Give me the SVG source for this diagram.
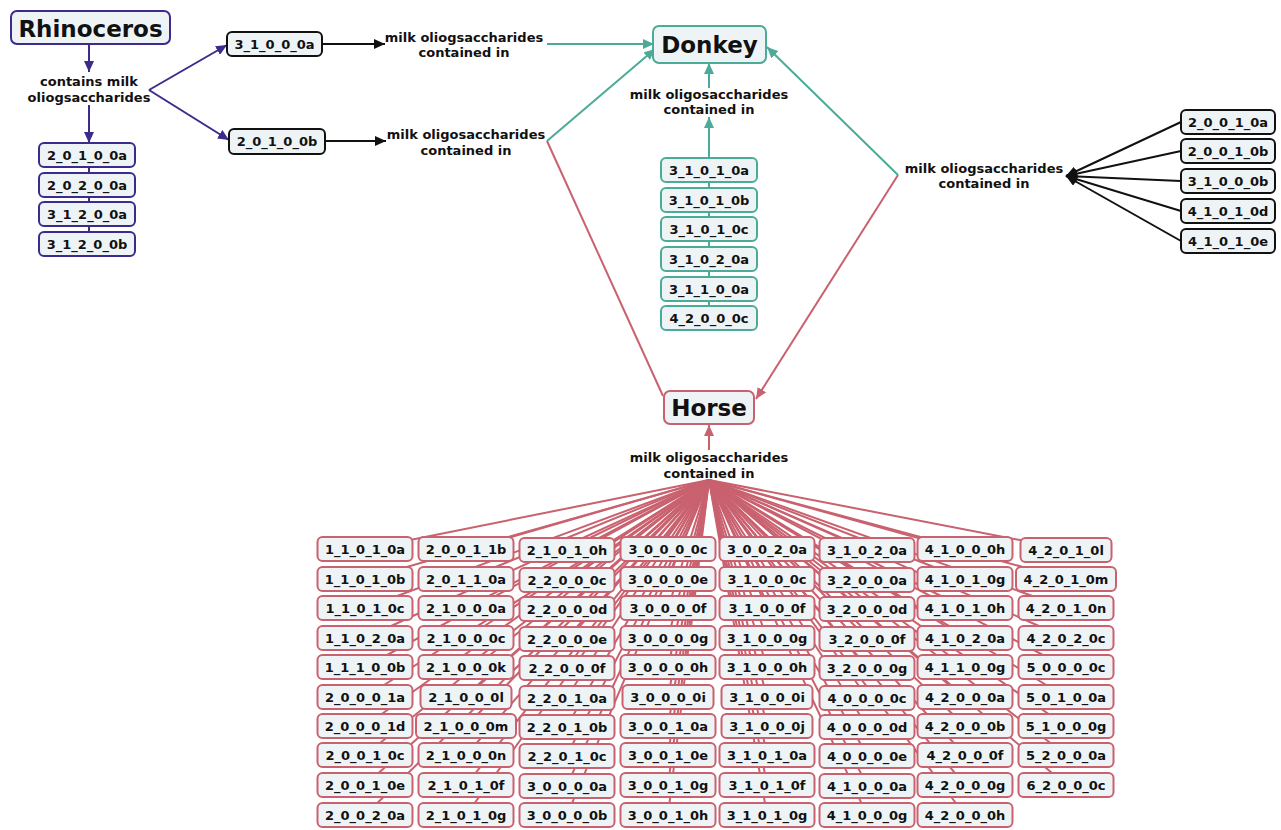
<svg xmlns="http://www.w3.org/2000/svg" width="1281" height="830" viewBox="0 0 1281 830">
<defs>
<style>
.box{fill:#eef4f6;stroke-width:2}
.ind{stroke:#3a2b8c}
.tea{stroke:#4aab98}
.pnk{stroke:#c9616f}
.blk{stroke:#111}
.c{fill:none;stroke-width:2}
text{font-family:"DejaVu Sans",Verdana,sans-serif;font-weight:bold;fill:#111;text-anchor:middle}
.s{font-size:13px}
.big{font-size:23px}
</style>
<marker id="aI" markerUnits="userSpaceOnUse" markerWidth="11" markerHeight="10" refX="11" refY="5" orient="auto"><path d="M0,0L11,5L0,10z" fill="#3a2b8c"/></marker>
<marker id="aT" markerUnits="userSpaceOnUse" markerWidth="11" markerHeight="10" refX="11" refY="5" orient="auto"><path d="M0,0L11,5L0,10z" fill="#4aab98"/></marker>
<marker id="aP" markerUnits="userSpaceOnUse" markerWidth="11" markerHeight="10" refX="11" refY="5" orient="auto"><path d="M0,0L11,5L0,10z" fill="#c9616f"/></marker>
<marker id="aB" markerUnits="userSpaceOnUse" markerWidth="11" markerHeight="10" refX="11" refY="5" orient="auto"><path d="M0,0L11,5L0,10z" fill="#111"/></marker>
</defs>
<rect width="1281" height="830" fill="#fff"/>

<g id="connectors">
<g class="c ind">
<path d="M89 45L89 72" marker-end="url(#aI)"/>
<path d="M89 105L89 143" marker-end="url(#aI)"/>
<path d="M89 143L89 244"/>
<path d="M149 90L227 45" marker-end="url(#aI)"/>
<path d="M149 90L229 140" marker-end="url(#aI)"/>
</g>
<g class="c blk">
<path d="M322 44L385 44" marker-end="url(#aB)"/>
<path d="M325 141L386 141" marker-end="url(#aB)"/>
<path d="M1181 122L1066 176" marker-end="url(#aB)"/>
<path d="M1181 151L1066 176" marker-end="url(#aB)"/>
<path d="M1181 181L1066 176" marker-end="url(#aB)"/>
<path d="M1181 211L1066 176" marker-end="url(#aB)"/>
<path d="M1181 241L1066 176" marker-end="url(#aB)"/>
</g>
<g class="c tea">
<path d="M547 44L654 44" marker-end="url(#aT)"/>
<path d="M547 141L655 49" marker-end="url(#aT)"/>
<path d="M709 88L709 63" marker-end="url(#aT)"/>
<path d="M709 318L709 117" marker-end="url(#aT)"/>
<path d="M898 175L767 47" marker-end="url(#aT)"/>
</g>
<g class="c pnk">
<path d="M547 141L663 396"/>
<path d="M898 175L756 399" marker-end="url(#aP)"/>
<path d="M709 450L709 425" marker-end="url(#aP)"/>
<path d="M709 480L365 549"/><path d="M709 480L365 579"/><path d="M709 480L365 608"/><path d="M709 480L365 638"/><path d="M709 480L365 667"/><path d="M709 480L365 697"/><path d="M709 480L365 726"/><path d="M709 480L365 755"/><path d="M709 480L365 785"/><path d="M709 480L365 815"/>
<path d="M709 480L466 549"/><path d="M709 480L466 579"/><path d="M709 480L466 608"/><path d="M709 480L466 638"/><path d="M709 480L466 667"/><path d="M709 480L466 697"/><path d="M709 480L466 726"/><path d="M709 480L466 755"/><path d="M709 480L466 785"/><path d="M709 480L466 815"/>
<path d="M709 480L567 549"/><path d="M709 480L567 579"/><path d="M709 480L567 608"/><path d="M709 480L567 638"/><path d="M709 480L567 667"/><path d="M709 480L567 697"/><path d="M709 480L567 726"/><path d="M709 480L567 755"/><path d="M709 480L567 785"/><path d="M709 480L567 815"/>
<path d="M709 480L668 549"/><path d="M709 480L668 579"/><path d="M709 480L668 608"/><path d="M709 480L668 638"/><path d="M709 480L668 667"/><path d="M709 480L668 697"/><path d="M709 480L668 726"/><path d="M709 480L668 755"/><path d="M709 480L668 785"/><path d="M709 480L668 815"/>
<path d="M709 480L767 549"/><path d="M709 480L767 579"/><path d="M709 480L767 608"/><path d="M709 480L767 638"/><path d="M709 480L767 667"/><path d="M709 480L767 697"/><path d="M709 480L767 726"/><path d="M709 480L767 755"/><path d="M709 480L767 785"/><path d="M709 480L767 815"/>
<path d="M709 480L867 549"/><path d="M709 480L867 579"/><path d="M709 480L867 608"/><path d="M709 480L867 638"/><path d="M709 480L867 667"/><path d="M709 480L867 697"/><path d="M709 480L867 726"/><path d="M709 480L867 755"/><path d="M709 480L867 785"/><path d="M709 480L867 815"/>
<path d="M709 480L965 549"/><path d="M709 480L965 579"/><path d="M709 480L965 608"/><path d="M709 480L965 638"/><path d="M709 480L965 667"/><path d="M709 480L965 697"/><path d="M709 480L965 726"/><path d="M709 480L965 755"/><path d="M709 480L965 785"/><path d="M709 480L965 815"/>
<path d="M709 480L1066 549"/><path d="M709 480L1066 579"/><path d="M709 480L1066 608"/><path d="M709 480L1066 638"/><path d="M709 480L1066 667"/><path d="M709 480L1066 697"/><path d="M709 480L1066 726"/><path d="M709 480L1066 755"/><path d="M709 480L1066 785"/>
</g>
</g>

<g id="labels">
<g id="lbl-rhino"><text class="s" x="89" y="85.5">contains milk</text><text class="s" x="89" y="101.5">oliogsaccharides</text></g>
<g id="lbl-a"><text class="s" x="464" y="41.7">milk oliogsaccharides</text><text class="s" x="464" y="57">contained in</text></g>
<g id="lbl-b"><text class="s" x="466" y="138.7">milk oligosaccharides</text><text class="s" x="466" y="154.7">contained in</text></g>
<g id="lbl-donkey"><text class="s" x="709" y="98.7">milk oligosaccharides</text><text class="s" x="709" y="113.7">contained in</text></g>
<g id="lbl-right"><text class="s" x="984" y="172.7">milk oliogsaccharides</text><text class="s" x="984" y="188">contained in</text></g>
<g id="lbl-horse"><text class="s" x="709" y="461.7">milk oligosaccharides</text><text class="s" x="709" y="477.5">contained in</text></g>
</g>

<g id="n-rhinoceros"><rect class="box ind" x="11" y="11" width="159" height="33" rx="6"/><text class="big" x="90.5" y="36.5">Rhinoceros</text></g>
<g id="n-donkey"><rect class="box tea" x="653" y="26" width="113" height="37" rx="6"/><text class="big" x="709.5" y="52.5">Donkey</text></g>
<g id="n-horse"><rect class="box pnk" x="664" y="391" width="90" height="33" rx="6"/><text class="big" x="709" y="415.5">Horse</text></g>

<g id="n-3_1_0_0_0a"><rect class="box blk" x="227" y="32" width="95" height="24" rx="5"/><text class="s" x="274.5" y="48.7">3_1_0_0_0a</text></g>
<g id="n-2_0_1_0_0b"><rect class="box blk" x="229" y="129" width="96" height="25" rx="5"/><text class="s" x="277" y="146">2_0_1_0_0b</text></g>

<g id="n-2_0_1_0_0a"><rect class="box ind" x="39" y="143" width="96" height="24" rx="5"/><text class="s" x="87" y="159.7">2_0_1_0_0a</text></g>
<g id="n-2_0_2_0_0a"><rect class="box ind" x="39" y="173" width="96" height="24" rx="5"/><text class="s" x="87" y="189.7">2_0_2_0_0a</text></g>
<g id="n-3_1_2_0_0a"><rect class="box ind" x="39" y="202" width="96" height="24" rx="5"/><text class="s" x="87" y="218.7">3_1_2_0_0a</text></g>
<g id="n-3_1_2_0_0b"><rect class="box ind" x="39" y="232" width="96" height="24" rx="5"/><text class="s" x="87" y="248.7">3_1_2_0_0b</text></g>

<g id="d-3_1_0_1_0a"><rect class="box tea" x="661" y="158" width="96" height="24" rx="5"/><text class="s" x="709" y="174.7">3_1_0_1_0a</text></g>
<g id="d-3_1_0_1_0b"><rect class="box tea" x="661" y="188" width="96" height="24" rx="5"/><text class="s" x="709" y="204.7">3_1_0_1_0b</text></g>
<g id="d-3_1_0_1_0c"><rect class="box tea" x="661" y="217" width="96" height="24" rx="5"/><text class="s" x="709" y="233.7">3_1_0_1_0c</text></g>
<g id="d-3_1_0_2_0a"><rect class="box tea" x="661" y="247" width="96" height="24" rx="5"/><text class="s" x="709" y="263.7">3_1_0_2_0a</text></g>
<g id="d-3_1_1_0_0a"><rect class="box tea" x="661" y="277" width="96" height="24" rx="5"/><text class="s" x="709" y="293.7">3_1_1_0_0a</text></g>
<g id="d-4_2_0_0_0c"><rect class="box tea" x="661" y="306" width="96" height="24" rx="5"/><text class="s" x="709" y="322.7">4_2_0_0_0c</text></g>

<g id="r-2_0_0_1_0a"><rect class="box blk" x="1181" y="110" width="94" height="24" rx="5"/><text class="s" x="1228" y="126.7">2_0_0_1_0a</text></g>
<g id="r-2_0_0_1_0b"><rect class="box blk" x="1181" y="139" width="94" height="24" rx="5"/><text class="s" x="1228" y="155.7">2_0_0_1_0b</text></g>
<g id="r-3_1_0_0_0b"><rect class="box blk" x="1181" y="169" width="94" height="24" rx="5"/><text class="s" x="1228" y="185.7">3_1_0_0_0b</text></g>
<g id="r-4_1_0_1_0d"><rect class="box blk" x="1181" y="199" width="94" height="24" rx="5"/><text class="s" x="1228" y="215.7">4_1_0_1_0d</text></g>
<g id="r-4_1_0_1_0e"><rect class="box blk" x="1181" y="229" width="94" height="24" rx="5"/><text class="s" x="1228" y="245.7">4_1_0_1_0e</text></g>

<g id="horse-list">
<g id="h-1_1_0_1_0a"><rect class="box pnk" x="317.5" y="537" width="95" height="24" rx="5"/><text class="s" x="365" y="553.7">1_1_0_1_0a</text></g>
<g id="h-1_1_0_1_0b"><rect class="box pnk" x="317.5" y="567" width="95" height="24" rx="5"/><text class="s" x="365" y="583.7">1_1_0_1_0b</text></g>
<g id="h-1_1_0_1_0c"><rect class="box pnk" x="317.5" y="596" width="95" height="24" rx="5"/><text class="s" x="365" y="612.7">1_1_0_1_0c</text></g>
<g id="h-1_1_0_2_0a"><rect class="box pnk" x="317.5" y="626" width="95" height="24" rx="5"/><text class="s" x="365" y="642.7">1_1_0_2_0a</text></g>
<g id="h-1_1_1_0_0b"><rect class="box pnk" x="317.5" y="655" width="95" height="24" rx="5"/><text class="s" x="365" y="671.7">1_1_1_0_0b</text></g>
<g id="h-2_0_0_0_1a"><rect class="box pnk" x="317.5" y="685" width="95" height="24" rx="5"/><text class="s" x="365" y="701.7">2_0_0_0_1a</text></g>
<g id="h-2_0_0_0_1d"><rect class="box pnk" x="317.5" y="714" width="95" height="24" rx="5"/><text class="s" x="365" y="730.7">2_0_0_0_1d</text></g>
<g id="h-2_0_0_1_0c"><rect class="box pnk" x="317.5" y="743" width="95" height="24" rx="5"/><text class="s" x="365" y="759.7">2_0_0_1_0c</text></g>
<g id="h-2_0_0_1_0e"><rect class="box pnk" x="317.5" y="773" width="95" height="24" rx="5"/><text class="s" x="365" y="789.7">2_0_0_1_0e</text></g>
<g id="h-2_0_0_2_0a"><rect class="box pnk" x="317.5" y="803" width="95" height="24" rx="5"/><text class="s" x="365" y="819.7">2_0_0_2_0a</text></g>

<g id="h-2_0_0_1_1b"><rect class="box pnk" x="418.5" y="537" width="95" height="24" rx="5"/><text class="s" x="466" y="553.7">2_0_0_1_1b</text></g>
<g id="h-2_0_1_1_0a"><rect class="box pnk" x="418.5" y="567" width="95" height="24" rx="5"/><text class="s" x="466" y="583.7">2_0_1_1_0a</text></g>
<g id="h-2_1_0_0_0a"><rect class="box pnk" x="418.5" y="596" width="95" height="24" rx="5"/><text class="s" x="466" y="612.7">2_1_0_0_0a</text></g>
<g id="h-2_1_0_0_0c"><rect class="box pnk" x="418.5" y="626" width="95" height="24" rx="5"/><text class="s" x="466" y="642.7">2_1_0_0_0c</text></g>
<g id="h-2_1_0_0_0k"><rect class="box pnk" x="418.5" y="655" width="95" height="24" rx="5"/><text class="s" x="466" y="671.7">2_1_0_0_0k</text></g>
<g id="h-2_1_0_0_0l"><rect class="box pnk" x="420.5" y="685" width="91" height="24" rx="5"/><text class="s" x="466" y="701.7">2_1_0_0_0l</text></g>
<g id="h-2_1_0_0_0m"><rect class="box pnk" x="416" y="714" width="100" height="24" rx="5"/><text class="s" x="466" y="730.7">2_1_0_0_0m</text></g>
<g id="h-2_1_0_0_0n"><rect class="box pnk" x="418.5" y="743" width="95" height="24" rx="5"/><text class="s" x="466" y="759.7">2_1_0_0_0n</text></g>
<g id="h-2_1_0_1_0f"><rect class="box pnk" x="418.5" y="773" width="95" height="24" rx="5"/><text class="s" x="466" y="789.7">2_1_0_1_0f</text></g>
<g id="h-2_1_0_1_0g"><rect class="box pnk" x="418.5" y="803" width="95" height="24" rx="5"/><text class="s" x="466" y="819.7">2_1_0_1_0g</text></g>

<g id="h-2_1_0_1_0h"><rect class="box pnk" x="519.5" y="538" width="95" height="24" rx="5"/><text class="s" x="567" y="554.7">2_1_0_1_0h</text></g>
<g id="h-2_2_0_0_0c"><rect class="box pnk" x="519.5" y="568" width="95" height="24" rx="5"/><text class="s" x="567" y="584.7">2_2_0_0_0c</text></g>
<g id="h-2_2_0_0_0d"><rect class="box pnk" x="519.5" y="597" width="95" height="24" rx="5"/><text class="s" x="567" y="613.7">2_2_0_0_0d</text></g>
<g id="h-2_2_0_0_0e"><rect class="box pnk" x="519.5" y="627" width="95" height="24" rx="5"/><text class="s" x="567" y="643.7">2_2_0_0_0e</text></g>
<g id="h-2_2_0_0_0f"><rect class="box pnk" x="519.5" y="656" width="95" height="24" rx="5"/><text class="s" x="567" y="672.7">2_2_0_0_0f</text></g>
<g id="h-2_2_0_1_0a"><rect class="box pnk" x="519.5" y="686" width="95" height="24" rx="5"/><text class="s" x="567" y="702.7">2_2_0_1_0a</text></g>
<g id="h-2_2_0_1_0b"><rect class="box pnk" x="519.5" y="715" width="95" height="24" rx="5"/><text class="s" x="567" y="731.7">2_2_0_1_0b</text></g>
<g id="h-2_2_0_1_0c"><rect class="box pnk" x="519.5" y="744" width="95" height="24" rx="5"/><text class="s" x="567" y="760.7">2_2_0_1_0c</text></g>
<g id="h-3_0_0_0_0a"><rect class="box pnk" x="519.5" y="774" width="95" height="24" rx="5"/><text class="s" x="567" y="790.7">3_0_0_0_0a</text></g>
<g id="h-3_0_0_0_0b"><rect class="box pnk" x="519.5" y="803" width="95" height="24" rx="5"/><text class="s" x="567" y="819.7">3_0_0_0_0b</text></g>

<g id="h-3_0_0_0_0c"><rect class="box pnk" x="620.5" y="537" width="95" height="24" rx="5"/><text class="s" x="668" y="553.7">3_0_0_0_0c</text></g>
<g id="h-3_0_0_0_0e"><rect class="box pnk" x="620.5" y="567" width="95" height="24" rx="5"/><text class="s" x="668" y="583.7">3_0_0_0_0e</text></g>
<g id="h-3_0_0_0_0f"><rect class="box pnk" x="620.5" y="596" width="95" height="24" rx="5"/><text class="s" x="668" y="612.7">3_0_0_0_0f</text></g>
<g id="h-3_0_0_0_0g"><rect class="box pnk" x="620.5" y="626" width="95" height="24" rx="5"/><text class="s" x="668" y="642.7">3_0_0_0_0g</text></g>
<g id="h-3_0_0_0_0h"><rect class="box pnk" x="620.5" y="655" width="95" height="24" rx="5"/><text class="s" x="668" y="671.7">3_0_0_0_0h</text></g>
<g id="h-3_0_0_0_0i"><rect class="box pnk" x="622.5" y="685" width="91" height="24" rx="5"/><text class="s" x="668" y="701.7">3_0_0_0_0i</text></g>
<g id="h-3_0_0_1_0a"><rect class="box pnk" x="620.5" y="714" width="95" height="24" rx="5"/><text class="s" x="668" y="730.7">3_0_0_1_0a</text></g>
<g id="h-3_0_0_1_0e"><rect class="box pnk" x="620.5" y="743" width="95" height="24" rx="5"/><text class="s" x="668" y="759.7">3_0_0_1_0e</text></g>
<g id="h-3_0_0_1_0g"><rect class="box pnk" x="620.5" y="773" width="95" height="24" rx="5"/><text class="s" x="668" y="789.7">3_0_0_1_0g</text></g>
<g id="h-3_0_0_1_0h"><rect class="box pnk" x="620.5" y="803" width="95" height="24" rx="5"/><text class="s" x="668" y="819.7">3_0_0_1_0h</text></g>

<g id="h-3_0_0_2_0a"><rect class="box pnk" x="719.5" y="537" width="95" height="24" rx="5"/><text class="s" x="767" y="553.7">3_0_0_2_0a</text></g>
<g id="h-3_1_0_0_0c"><rect class="box pnk" x="719.5" y="567" width="95" height="24" rx="5"/><text class="s" x="767" y="583.7">3_1_0_0_0c</text></g>
<g id="h-3_1_0_0_0f"><rect class="box pnk" x="719.5" y="596" width="95" height="24" rx="5"/><text class="s" x="767" y="612.7">3_1_0_0_0f</text></g>
<g id="h-3_1_0_0_0g"><rect class="box pnk" x="719.5" y="626" width="95" height="24" rx="5"/><text class="s" x="767" y="642.7">3_1_0_0_0g</text></g>
<g id="h-3_1_0_0_0h"><rect class="box pnk" x="719.5" y="655" width="95" height="24" rx="5"/><text class="s" x="767" y="671.7">3_1_0_0_0h</text></g>
<g id="h-3_1_0_0_0i"><rect class="box pnk" x="721.5" y="685" width="91" height="24" rx="5"/><text class="s" x="767" y="701.7">3_1_0_0_0i</text></g>
<g id="h-3_1_0_0_0j"><rect class="box pnk" x="721.5" y="714" width="91" height="24" rx="5"/><text class="s" x="767" y="730.7">3_1_0_0_0j</text></g>
<g id="h-3_1_0_1_0a"><rect class="box pnk" x="719.5" y="743" width="95" height="24" rx="5"/><text class="s" x="767" y="759.7">3_1_0_1_0a</text></g>
<g id="h-3_1_0_1_0f"><rect class="box pnk" x="719.5" y="773" width="95" height="24" rx="5"/><text class="s" x="767" y="789.7">3_1_0_1_0f</text></g>
<g id="h-3_1_0_1_0g"><rect class="box pnk" x="719.5" y="803" width="95" height="24" rx="5"/><text class="s" x="767" y="819.7">3_1_0_1_0g</text></g>

<g id="h-3_1_0_2_0a"><rect class="box pnk" x="819.5" y="538" width="95" height="24" rx="5"/><text class="s" x="867" y="554.7">3_1_0_2_0a</text></g>
<g id="h-3_2_0_0_0a"><rect class="box pnk" x="819.5" y="568" width="95" height="24" rx="5"/><text class="s" x="867" y="584.7">3_2_0_0_0a</text></g>
<g id="h-3_2_0_0_0d"><rect class="box pnk" x="819.5" y="597" width="95" height="24" rx="5"/><text class="s" x="867" y="613.7">3_2_0_0_0d</text></g>
<g id="h-3_2_0_0_0f"><rect class="box pnk" x="819.5" y="627" width="95" height="24" rx="5"/><text class="s" x="867" y="643.7">3_2_0_0_0f</text></g>
<g id="h-3_2_0_0_0g"><rect class="box pnk" x="819.5" y="656" width="95" height="24" rx="5"/><text class="s" x="867" y="672.7">3_2_0_0_0g</text></g>
<g id="h-4_0_0_0_0c"><rect class="box pnk" x="819.5" y="686" width="95" height="24" rx="5"/><text class="s" x="867" y="702.7">4_0_0_0_0c</text></g>
<g id="h-4_0_0_0_0d"><rect class="box pnk" x="819.5" y="715" width="95" height="24" rx="5"/><text class="s" x="867" y="731.7">4_0_0_0_0d</text></g>
<g id="h-4_0_0_0_0e"><rect class="box pnk" x="819.5" y="744" width="95" height="24" rx="5"/><text class="s" x="867" y="760.7">4_0_0_0_0e</text></g>
<g id="h-4_1_0_0_0a"><rect class="box pnk" x="819.5" y="774" width="95" height="24" rx="5"/><text class="s" x="867" y="790.7">4_1_0_0_0a</text></g>
<g id="h-4_1_0_0_0g"><rect class="box pnk" x="819.5" y="803" width="95" height="24" rx="5"/><text class="s" x="867" y="819.7">4_1_0_0_0g</text></g>

<g id="h-4_1_0_0_0h"><rect class="box pnk" x="917.5" y="537" width="95" height="24" rx="5"/><text class="s" x="965" y="553.7">4_1_0_0_0h</text></g>
<g id="h-4_1_0_1_0g"><rect class="box pnk" x="917.5" y="567" width="95" height="24" rx="5"/><text class="s" x="965" y="583.7">4_1_0_1_0g</text></g>
<g id="h-4_1_0_1_0h"><rect class="box pnk" x="917.5" y="596" width="95" height="24" rx="5"/><text class="s" x="965" y="612.7">4_1_0_1_0h</text></g>
<g id="h-4_1_0_2_0a"><rect class="box pnk" x="917.5" y="626" width="95" height="24" rx="5"/><text class="s" x="965" y="642.7">4_1_0_2_0a</text></g>
<g id="h-4_1_1_0_0g"><rect class="box pnk" x="917.5" y="655" width="95" height="24" rx="5"/><text class="s" x="965" y="671.7">4_1_1_0_0g</text></g>
<g id="h-4_2_0_0_0a"><rect class="box pnk" x="917.5" y="685" width="95" height="24" rx="5"/><text class="s" x="965" y="701.7">4_2_0_0_0a</text></g>
<g id="h-4_2_0_0_0b"><rect class="box pnk" x="917.5" y="714" width="95" height="24" rx="5"/><text class="s" x="965" y="730.7">4_2_0_0_0b</text></g>
<g id="h-4_2_0_0_0f"><rect class="box pnk" x="917.5" y="743" width="95" height="24" rx="5"/><text class="s" x="965" y="759.7">4_2_0_0_0f</text></g>
<g id="h-4_2_0_0_0g"><rect class="box pnk" x="917.5" y="773" width="95" height="24" rx="5"/><text class="s" x="965" y="789.7">4_2_0_0_0g</text></g>
<g id="h-4_2_0_0_0h"><rect class="box pnk" x="917.5" y="803" width="95" height="24" rx="5"/><text class="s" x="965" y="819.7">4_2_0_0_0h</text></g>

<g id="h-4_2_0_1_0l"><rect class="box pnk" x="1020.5" y="538" width="91" height="24" rx="5"/><text class="s" x="1066" y="554.7">4_2_0_1_0l</text></g>
<g id="h-4_2_0_1_0m"><rect class="box pnk" x="1016" y="567" width="100" height="24" rx="5"/><text class="s" x="1066" y="583.7">4_2_0_1_0m</text></g>
<g id="h-4_2_0_1_0n"><rect class="box pnk" x="1018.5" y="596" width="95" height="24" rx="5"/><text class="s" x="1066" y="612.7">4_2_0_1_0n</text></g>
<g id="h-4_2_0_2_0c"><rect class="box pnk" x="1018.5" y="626" width="95" height="24" rx="5"/><text class="s" x="1066" y="642.7">4_2_0_2_0c</text></g>
<g id="h-5_0_0_0_0c"><rect class="box pnk" x="1018.5" y="655" width="95" height="24" rx="5"/><text class="s" x="1066" y="671.7">5_0_0_0_0c</text></g>
<g id="h-5_0_1_0_0a"><rect class="box pnk" x="1018.5" y="685" width="95" height="24" rx="5"/><text class="s" x="1066" y="701.7">5_0_1_0_0a</text></g>
<g id="h-5_1_0_0_0g"><rect class="box pnk" x="1018.5" y="714" width="95" height="24" rx="5"/><text class="s" x="1066" y="730.7">5_1_0_0_0g</text></g>
<g id="h-5_2_0_0_0a"><rect class="box pnk" x="1018.5" y="743" width="95" height="24" rx="5"/><text class="s" x="1066" y="759.7">5_2_0_0_0a</text></g>
<g id="h-6_2_0_0_0c"><rect class="box pnk" x="1018.5" y="773" width="95" height="24" rx="5"/><text class="s" x="1066" y="789.7">6_2_0_0_0c</text></g>
</g>
</svg>
